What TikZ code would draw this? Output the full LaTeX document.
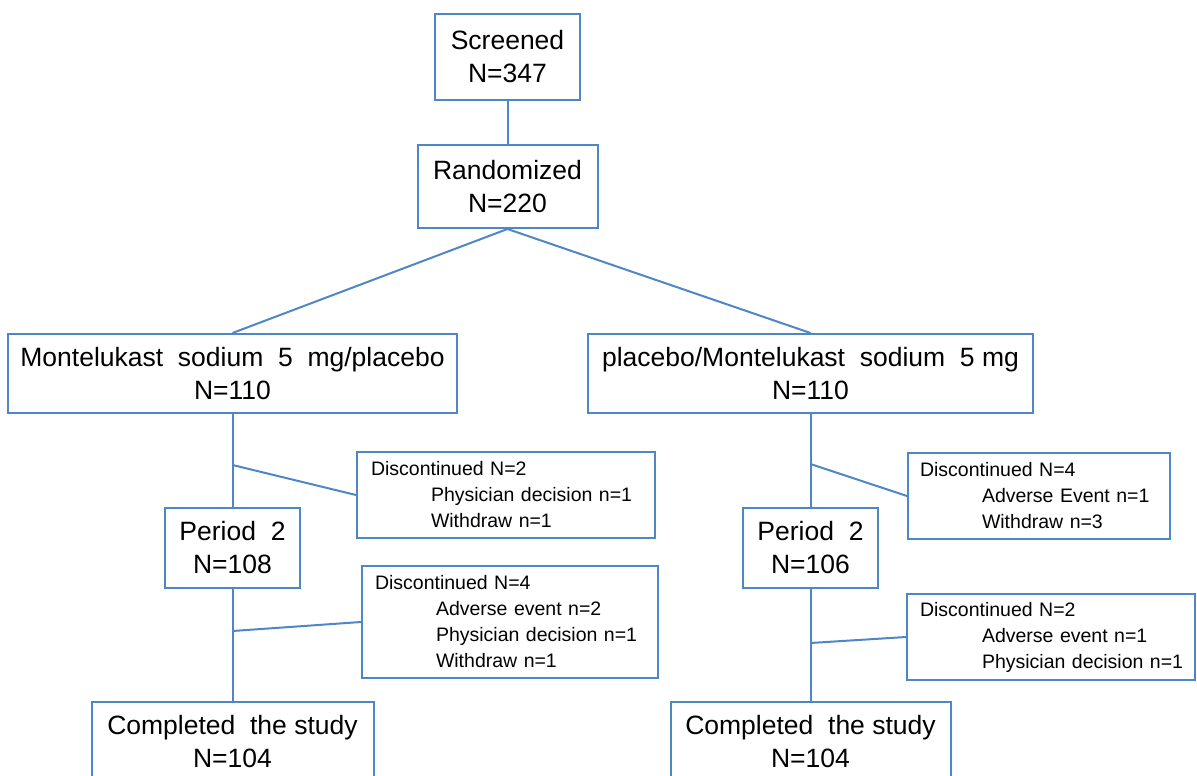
\documentclass[tikz,border=0pt]{standalone}
\usepackage{fontspec}
\setmainfont{Liberation Sans}
\definecolor{bl}{RGB}{79,134,198}
\begin{document}
\begin{tikzpicture}[x=1pt,y=-1pt,
  box/.style={draw=bl, line width=2pt, rectangle, inner sep=0pt, align=center, text=black,
    font=\fontsize{26.5}{33}\selectfont},
  dbox/.style={draw=bl, line width=2pt, rectangle, inner sep=0pt, align=left, text=black,
    font=\fontsize{19.5}{26}\selectfont},
  ln/.style={draw=bl, line width=2pt}]
\useasboundingbox (0,0) rectangle (1197,776);
\clip (0,0) rectangle (1197,776);

\node[box, minimum width=145, minimum height=86] (scr) at (507.5,57) {Screened\\N=347};
\node[box, minimum width=180, minimum height=83] (rnd) at (507.5,186.5) {Randomized\\N=220};
\node[box, minimum width=449, minimum height=79] (armL) at (232.5,373.5) {Montelukast\ \ sodium\ \ 5\ \ mg/placebo\\N=110};
\node[box, minimum width=445, minimum height=79] (armR) at (810.5,373.5) {placebo/Montelukast\ \ sodium\ \ 5 mg\\N=110};
\node[box, minimum width=135, minimum height=80] (p2L) at (232.5,548) {Period\ \ 2\\N=108};
\node[box, minimum width=135, minimum height=80] (p2R) at (810.5,548) {Period\ \ 2\\N=106};
\node[box, minimum width=282, minimum height=80] (cL) at (232.5,742) {Completed\ \ the study\\N=104};
\node[box, minimum width=280, minimum height=80] (cR) at (810.5,742) {Completed\ \ the study\\N=104};

\node[dbox, minimum width=298, minimum height=86, text width=270] (d1) at (506,495)
  {Discontinued N=2\\\hspace*{60pt}Physician decision n=1\\\hspace*{60pt}Withdraw n=1};
\node[dbox, minimum width=296, minimum height=112, text width=270] (d2) at (510,622)
  {Discontinued N=4\\\hspace*{61pt}Adverse event n=2\\\hspace*{61pt}Physician decision n=1\\\hspace*{61pt}Withdraw n=1};
\node[dbox, minimum width=262, minimum height=86, text width=238] (d3) at (1039,496)
  {Discontinued N=4\\\hspace*{62pt}Adverse Event n=1\\\hspace*{62pt}Withdraw n=3};
\node[dbox, minimum width=288, minimum height=86, text width=262] (d4) at (1051,637)
  {Discontinued N=2\\\hspace*{62pt}Adverse event n=1\\\hspace*{62pt}\mbox{Physician decision n=1}};

\draw[ln] (scr.south) -- (rnd.north);
\draw[ln] (rnd.south) -- (armL.north);
\draw[ln] (rnd.south) -- (armR.north);
\draw[ln] (armL.south) -- (p2L.north);
\draw[ln] (p2L.south) -- (cL.north);
\draw[ln] (armR.south) -- (p2R.north);
\draw[ln] (p2R.south) -- (cR.north);

\coordinate (b1) at (232.5,465);
\coordinate (b2) at (232.5,631);
\coordinate (b3) at (810.5,464);
\coordinate (b4) at (810.5,643);
\draw[ln] (b1) -- (d1.west);
\draw[ln] (b2) -- (d2.west);
\draw[ln] (b3) -- (d3.west);
\draw[ln] (b4) -- (d4.west);
\end{tikzpicture}
\end{document}
